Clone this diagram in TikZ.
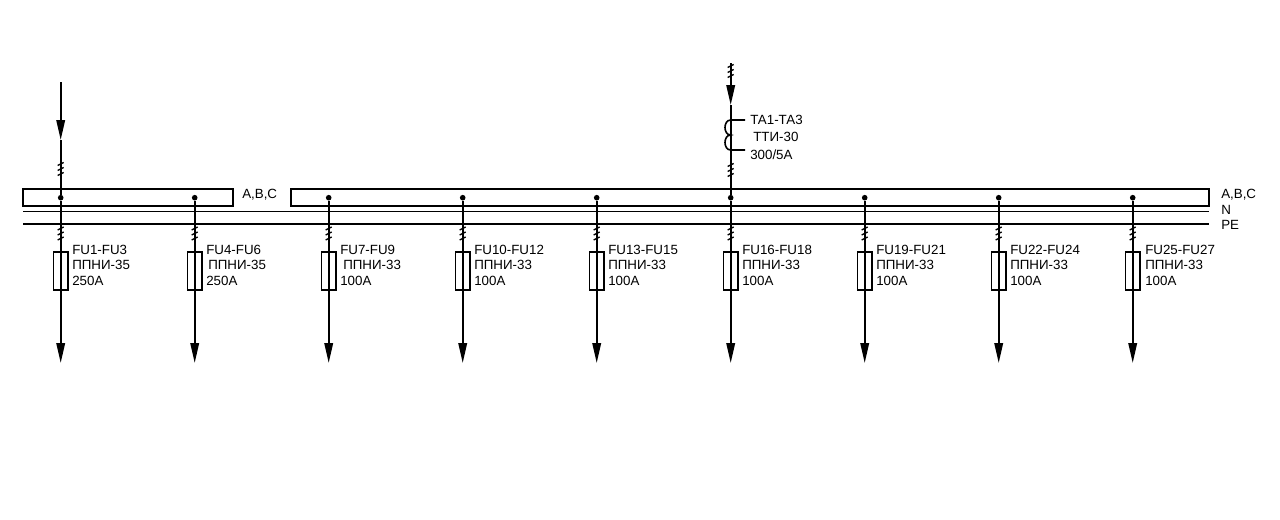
\documentclass[tikz,border=0pt]{standalone}
\usepackage{fontspec}
\setmainfont{Liberation Sans}
\usetikzlibrary{arrows.meta}
% three strokes across a line, centred on #1
\newcommand{\wires}[1]{%
\draw[wr] ([shift={(-3,-3.5)}]#1) -- ++(6,-3) ([shift={(-3,1.5)}]#1) -- ++(6,-3) ([shift={(-3,6.5)}]#1) -- ++(6,-3);}
% number, x, fuse names, type, current, text x, type x
\newcommand{\feeder}[7]{%
\node[dot] (d#1) at (#2,197.7) {};
\node[fuse] (f#1) at (#2,271) {};
\coordinate (e#1) at (#2,363);
\coordinate (w#1) at (#2,233.5);
\draw[wire,be] (d#1) -- (e#1);
\wires{w#1}
\node[lbl] (a#1) at (#6,250) {#3};
\node[lbl] (b#1) at (#7,265) {#4};
\node[lbl] (c#1) at (#6,281) {#5};}

\begin{document}
\begin{tikzpicture}
[x=0.75pt,y=-0.75pt
,wire/.style={draw=black,line width=1.4pt}
,rail/.style={draw=black,line width=1.2pt}
,wr/.style={draw=black,line width=1pt}
,be/.style={arrows={-Triangle[width=6.4pt,length=15pt]}}
,dot/.style={circle,fill=black,inner sep=0pt,minimum size=4.2pt}
,fuse/.style={draw=black,line width=1.1pt,minimum width=11.2pt,minimum height=28.5pt,inner sep=0pt}
,bus/.style={draw=black,line width=1.2pt,minimum height=12.75pt,inner sep=0pt}
,lbl/.style={anchor=west,inner sep=0pt,font=\fontsize{10}{11}\selectfont}]
\useasboundingbox (0,0) rectangle (1280,519);
% busbars
\node[bus,minimum width=157.5pt] (abc1) at (128,197.5) {};
\node[bus,minimum width=688.5pt] (abc2) at (750,197.5) {};
\coordinate (n1) at (23,211.3);
\coordinate (n2) at (1209,211.3);
\coordinate (pe1) at (23,223.7);
\coordinate (pe2) at (1209,223.7);
\draw[rail] (n1) -- (n2);
\draw[rail] (pe1) -- (pe2);
\node[lbl] (tabc1) at (242,195) {A,B,C};
\node[lbl] (tabc2) at (1221,195) {A,B,C};
\node[lbl] (tn) at (1221,210) {N};
\node[lbl] (tpe) at (1221,225) {PE};
% feeders
\feeder{1}{60.7}{FU1-FU3}{ППНИ-35}{250А}{72}{72}
\feeder{2}{194.7}{FU4-FU6}{ППНИ-35}{250А}{206}{208}
\feeder{3}{328.7}{FU7-FU9}{ППНИ-33}{100А}{340}{343}
\feeder{4}{462.7}{FU10-FU12}{ППНИ-33}{100А}{474}{474}
\feeder{5}{596.7}{FU13-FU15}{ППНИ-33}{100А}{608}{608}
\feeder{6}{730.7}{FU16-FU18}{ППНИ-33}{100А}{742}{742}
\feeder{7}{864.7}{FU19-FU21}{ППНИ-33}{100А}{876}{876}
\feeder{8}{998.7}{FU22-FU24}{ППНИ-33}{100А}{1010}{1010}
\feeder{9}{1132.7}{FU25-FU27}{ППНИ-33}{100А}{1145}{1145}
% left incomer
\coordinate (in1) at (60.7,82);
\coordinate (in1b) at (60.7,140);
\coordinate (in1w) at (60.7,169);
\draw[wire,be] (in1) -- (in1b);
\draw[wire] (in1b) -- (d1);
\wires{in1w}
% incomer with current transformer
\coordinate (in2) at (730.7,63);
\coordinate (in2b) at (730.7,105);
\coordinate (in2w) at (730.7,71);
\coordinate (in2v) at (730.7,170);
\coordinate (ct1) at (730.7,120);
\coordinate (ct2) at (730.7,135);
\coordinate (ct3) at (730.7,150);
\coordinate (ctl1) at (745,120);
\coordinate (ctl2) at (745,150);
\draw[wire,be] (in2) -- (in2b);
\draw[wire] (in2b) -- (d6);
\wires{in2w}
\wires{in2v}
\draw[wire,line width=1.2pt] (ctl1) -- (ct1) to[out=180,in=180,looseness=1.3] (ct2) to[out=180,in=180,looseness=1.3] (ct3) -- (ctl2);
\node[lbl] (tct1) at (750,120) {ТА1-ТА3};
\node[lbl] (tct2) at (753,137) {ТТИ-30};
\node[lbl] (tct3) at (750,155) {300/5А};
\end{tikzpicture}
\end{document}
